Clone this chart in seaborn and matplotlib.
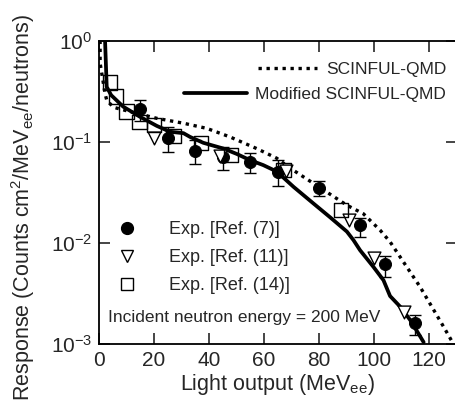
import numpy as np
import pandas as pd
import matplotlib
matplotlib.use('Agg')
import matplotlib.pyplot as plt
import seaborn as sns
from matplotlib.lines import Line2D

# Curves
qmd_x = [0.4, 0.4, 2.2, 2.8, 5.2, 10.1, 21.0, 30.7, 39.2, 47.6, 57.3, 64.6, 69.5,
         77.9, 90.1, 96.1, 102.2, 105.8, 111.9, 116.7, 121.6, 125.2, 128.3]
qmd_y = [1.0, 0.60, 0.30, 0.259, 0.22, 0.203, 0.171, 0.153, 0.136, 0.112, 0.086, 0.069, 0.055,
         0.039, 0.0237, 0.0195, 0.0134, 0.0103, 0.0058, 0.0037, 0.0022, 0.0015, 0.00107]

mod_x = [2.2, 2.8, 4.4, 8.8, 14.9, 21.0, 25.8, 30.7, 33.1, 37.9, 45.2, 50.1, 54.9, 59.7,
         64.6, 70.7, 77.9, 84.0, 90.1, 92.5, 94.9, 99.8, 103.4, 105.8, 109.5, 113.1, 116.1, 118.0]
mod_y = [1.0, 0.35, 0.29, 0.223, 0.177, 0.144, 0.126, 0.122, 0.112, 0.098, 0.086, 0.076, 0.066, 0.059,
         0.051, 0.036, 0.0247, 0.018, 0.013, 0.0107, 0.0085, 0.0058, 0.0043, 0.0030, 0.00235, 0.00174,
         0.00128, 0.00105]

# Exp. [Ref. (7)] with error bars
ref7_x = [15, 25, 35, 45, 55, 65, 80, 95, 104, 115]
ref7_y = [0.21, 0.109, 0.082, 0.071, 0.064, 0.050, 0.0348, 0.0151, 0.0062, 0.00161]
ref7_lo = [0.16, 0.080, 0.060, 0.053, 0.049, 0.037, 0.0289, 0.0116, 0.0046, 0.00124]
ref7_hi = [0.26, 0.140, 0.105, 0.090, 0.078, 0.067, 0.0414, 0.0178, 0.0075, 0.00193]

# Exp. [Ref. (11)]
ref11_x = [20, 44, 68, 91, 100, 111]
ref11_y = [0.11, 0.072, 0.052, 0.0169, 0.0071, 0.0021]

# Exp. [Ref. (14)]
ref14_x = [4, 6.2, 10, 14.7, 20, 27, 37, 48, 67, 88]
ref14_y = [0.385, 0.28, 0.20, 0.158, 0.147, 0.114, 0.098, 0.074, 0.053, 0.0212]

sns.set_style('ticks')
plt.rcParams['font.family'] = ['Liberation Sans', 'DejaVu Sans']
plt.rcParams['mathtext.fontset'] = 'custom'
plt.rcParams['mathtext.rm'] = 'Liberation Sans'
plt.rcParams['mathtext.it'] = 'Liberation Sans:italic'
plt.rcParams['mathtext.bf'] = 'Liberation Sans:bold'

fig = plt.figure(figsize=(4.55, 4.07), dpi=100)
ax = fig.add_axes([0.2176, 0.154, 0.786, 0.746])

dotted = (0, (1, 1.4))
qmd = pd.DataFrame({'x': qmd_x, 'y': qmd_y})
mod = pd.DataFrame({'x': mod_x, 'y': mod_y})
sns.lineplot(data=qmd, x='x', y='y', sort=False, ax=ax, color='black',
             lw=2.4, linestyle=dotted, estimator=None)
sns.lineplot(data=mod, x='x', y='y', sort=False, ax=ax, color='black',
             lw=2.7, estimator=None)

yerr = [np.array(ref7_y) - np.array(ref7_lo), np.array(ref7_hi) - np.array(ref7_y)]
ax.errorbar(ref7_x, ref7_y, yerr=yerr, fmt='none', ecolor='black', elinewidth=1.0,
            capsize=4, capthick=1.0, zorder=3)
sns.scatterplot(x=ref7_x, y=ref7_y, ax=ax, marker='o', s=75, color='black',
                edgecolor='black', zorder=4)
sns.scatterplot(x=ref11_x, y=ref11_y, ax=ax, marker='v', s=85, facecolor='white',
                edgecolor='black', linewidth=1.0, zorder=4)
sns.scatterplot(x=ref14_x, y=ref14_y, ax=ax, marker='s', s=110, facecolor='none',
                edgecolor='black', linewidth=1.0, zorder=4)

ax.set_yscale('log')
ax.set_xlim(0, 130)
ax.set_ylim(1e-3, 1)
ax.set_xticks([0, 20, 40, 60, 80, 100, 120])
ax.set_yticks([1e-3, 1e-2, 1e-1, 1])
ax.minorticks_off()
ax.tick_params(direction='in', length=8, width=1.2, top=True, right=True,
               labelsize=15, pad=5)
for s in ax.spines.values():
    s.set_linewidth(1.3)
    s.set_color('black')

ax.set_xlabel('Light output (MeV$_{\\mathregular{ee}}$)', fontsize=15.5, labelpad=1)
ax.set_ylabel('Response (Counts cm$^{\\mathregular{2}}$/MeV$_{\\mathregular{ee}}$/neutrons)',
              fontsize=15.5)
ax.yaxis.set_label_coords(-0.172, 0.452)

# line legend: two single-entry legends so the labels end on the same right edge
leg_a = ax.legend([Line2D([], [], color='black', lw=2.4, linestyle=dotted)], ['SCINFUL-QMD'],
                  loc='upper right', bbox_to_anchor=(0.971, 0.93), frameon=False,
                  fontsize=12.5, handlelength=3.4, handletextpad=0.5,
                  borderpad=0, borderaxespad=0)
ax.add_artist(leg_a)
leg_b = ax.legend([Line2D([], [], color='black', lw=2.7)], ['Modified SCINFUL-QMD'],
                  loc='upper right', bbox_to_anchor=(0.971, 0.848), frameon=False,
                  fontsize=12.5, handlelength=3.6, handletextpad=0.5,
                  borderpad=0, borderaxespad=0)
ax.add_artist(leg_b)

mark_handles = [Line2D([], [], marker='o', ls='none', color='black', markersize=8.5),
                Line2D([], [], marker='v', ls='none', markerfacecolor='white',
                       markeredgecolor='black', markersize=9),
                Line2D([], [], marker='s', ls='none', markerfacecolor='white',
                       markeredgecolor='black', markersize=9)]
ax.legend(mark_handles, ['Exp. [Ref. (7)]', 'Exp. [Ref. (11)]', 'Exp. [Ref. (14)]'],
          loc='upper left', bbox_to_anchor=(0.054, 0.405), frameon=False,
          fontsize=13, handlelength=1.0, handletextpad=1.8,
          labelspacing=0.6, borderpad=0, borderaxespad=0)

ax.text(0.026, 0.087, 'Incident neutron energy = 200 MeV', transform=ax.transAxes,
        fontsize=12.5, va='center', ha='left')

fig.savefig('out.png', dpi=100)
